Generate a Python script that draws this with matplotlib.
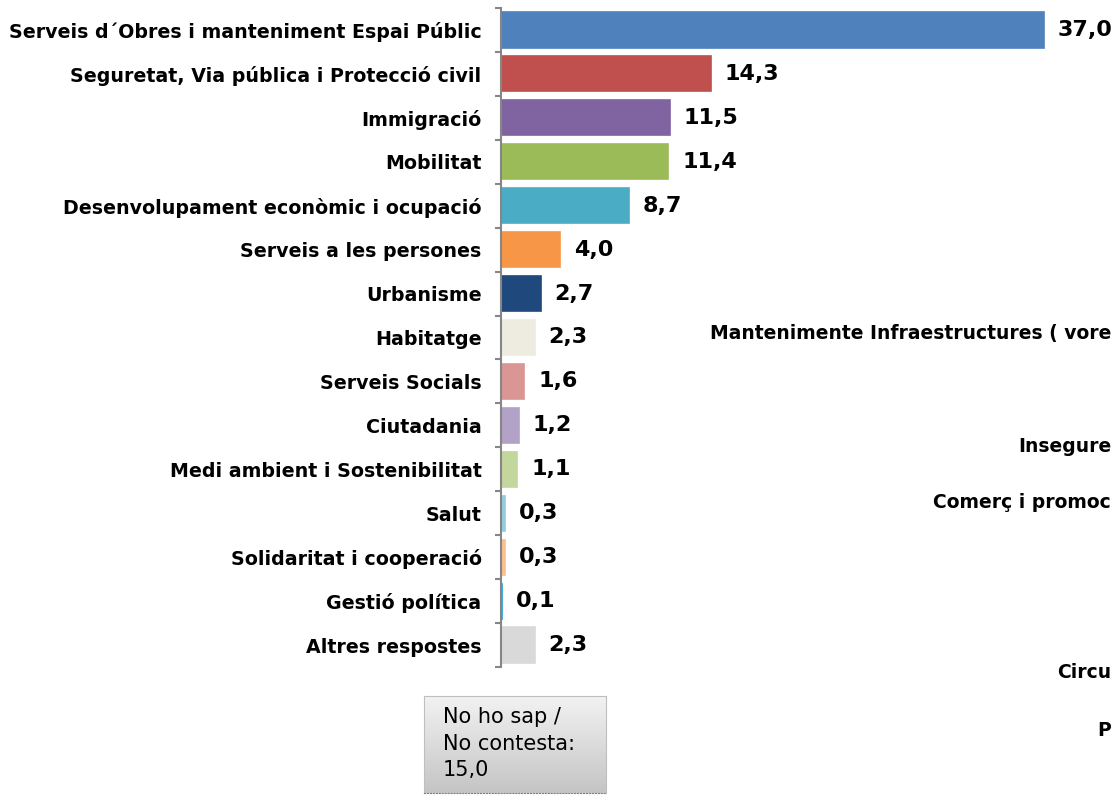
import numpy as np
import matplotlib
matplotlib.use('Agg')
import matplotlib.pyplot as plt

# categories and values (%)
categories = [
    "Serveis d´Obres i manteniment Espai Públic",
    "Seguretat, Via pública i Protecció civil",
    "Immigració",
    "Mobilitat",
    "Desenvolupament econòmic i ocupació",
    "Serveis a les persones",
    "Urbanisme",
    "Habitatge",
    "Serveis Socials",
    "Ciutadania",
    "Medi ambient i Sostenibilitat",
    "Salut",
    "Solidaritat i cooperació",
    "Gestió política",
    "Altres respostes",
]
values = [37.0, 14.3, 11.5, 11.4, 8.7, 4.0, 2.7, 2.3, 1.6, 1.2, 1.1, 0.3, 0.3, 0.1, 2.3]
colors = ['#4F81BD', '#C0504D', '#8064A2', '#9BBB59', '#4BACC6', '#F79646',
          '#1F497D', '#EEECE1', '#D99694', '#B3A2C7', '#C3D69B', '#93CDDD',
          '#FAC090', '#17A2DB', '#D9D9D9']
no_answer = 15.0

# leftover labels from another chart, only partly visible at the right edge
stray_texts = [
    ("Mantenimente Infraestructures ( vore", 333),
    ("Insegure", 447),
    ("Comerç i promoc", 503),
    ("Circu", 673),
    ("P", 730),
]

W, H = 1112, 795
fig = plt.figure(figsize=(W / 100, H / 100), dpi=100)

ax_left = 501 / W
ax_top = 8 / H
ax_bottom = 667 / H
ax = fig.add_axes([ax_left, 1 - ax_bottom, 1 - ax_left, ax_bottom - ax_top])

y = np.arange(len(categories))
ax.barh(y, values, height=0.8, color=colors, edgecolor=colors, linewidth=1.2, zorder=2)
ax.set_xlim(0, (W - 501) / 14.68)
ax.set_ylim(len(categories) - 0.5, -0.5)

for yi, v in zip(y, values):
    ax.annotate(f"{v:.1f}".replace('.', ','), (v, yi), xytext=(10, 0),
                textcoords='offset points', ha='left', va='center',
                fontsize=16, fontweight='bold', color='black',
                annotation_clip=False)

for s in ['top', 'right', 'bottom']:
    ax.spines[s].set_visible(False)
ax.spines['left'].set_color('#868686')
ax.spines['left'].set_linewidth(1.5)
ax.spines['left'].set_zorder(3)
ax.set_xticks([])
ax.set_yticks(y)
ax.set_yticklabels(categories, fontsize=13.7, fontweight='bold')
ax.tick_params(axis='y', which='major', length=0, pad=14)
ax.set_yticks(np.arange(-0.5, len(categories)), minor=True)
ax.tick_params(axis='y', which='minor', length=4.5, width=1.5, color='#868686')

for txt, py in stray_texts:
    fig.text((W - 1) / W, 1 - py / H, txt, ha='right', va='center',
             fontsize=13.5, fontweight='bold')

# "No ho sap" box with gray gradient
bx0, bx1, by0, by1 = 424, 606, 696, 793
box = fig.add_axes([bx0 / W, 1 - by1 / H, (bx1 - bx0) / W, (by1 - by0) / H])
grad = np.linspace(0.95, 0.77, 100).reshape(-1, 1)
box.imshow(np.dstack([grad, grad, grad]), aspect='auto', extent=[0, 1, 0, 1])
box.set_xlim(0, 1)
box.set_ylim(0, 1)
box.set_xticks([])
box.set_yticks([])
for s in box.spines.values():
    s.set_color('#BFBFBF')
    s.set_linewidth(0.8)
box.spines['bottom'].set_linestyle(':')
box.spines['bottom'].set_color('#7F7F7F')
box.text(19 / (bx1 - bx0), 0.51, "No ho sap /\nNo contesta:\n" + f"{no_answer:.1f}".replace('.', ','),
         ha='left', va='center', fontsize=15, linespacing=1.38)

fig.savefig('out.png', dpi=100)
